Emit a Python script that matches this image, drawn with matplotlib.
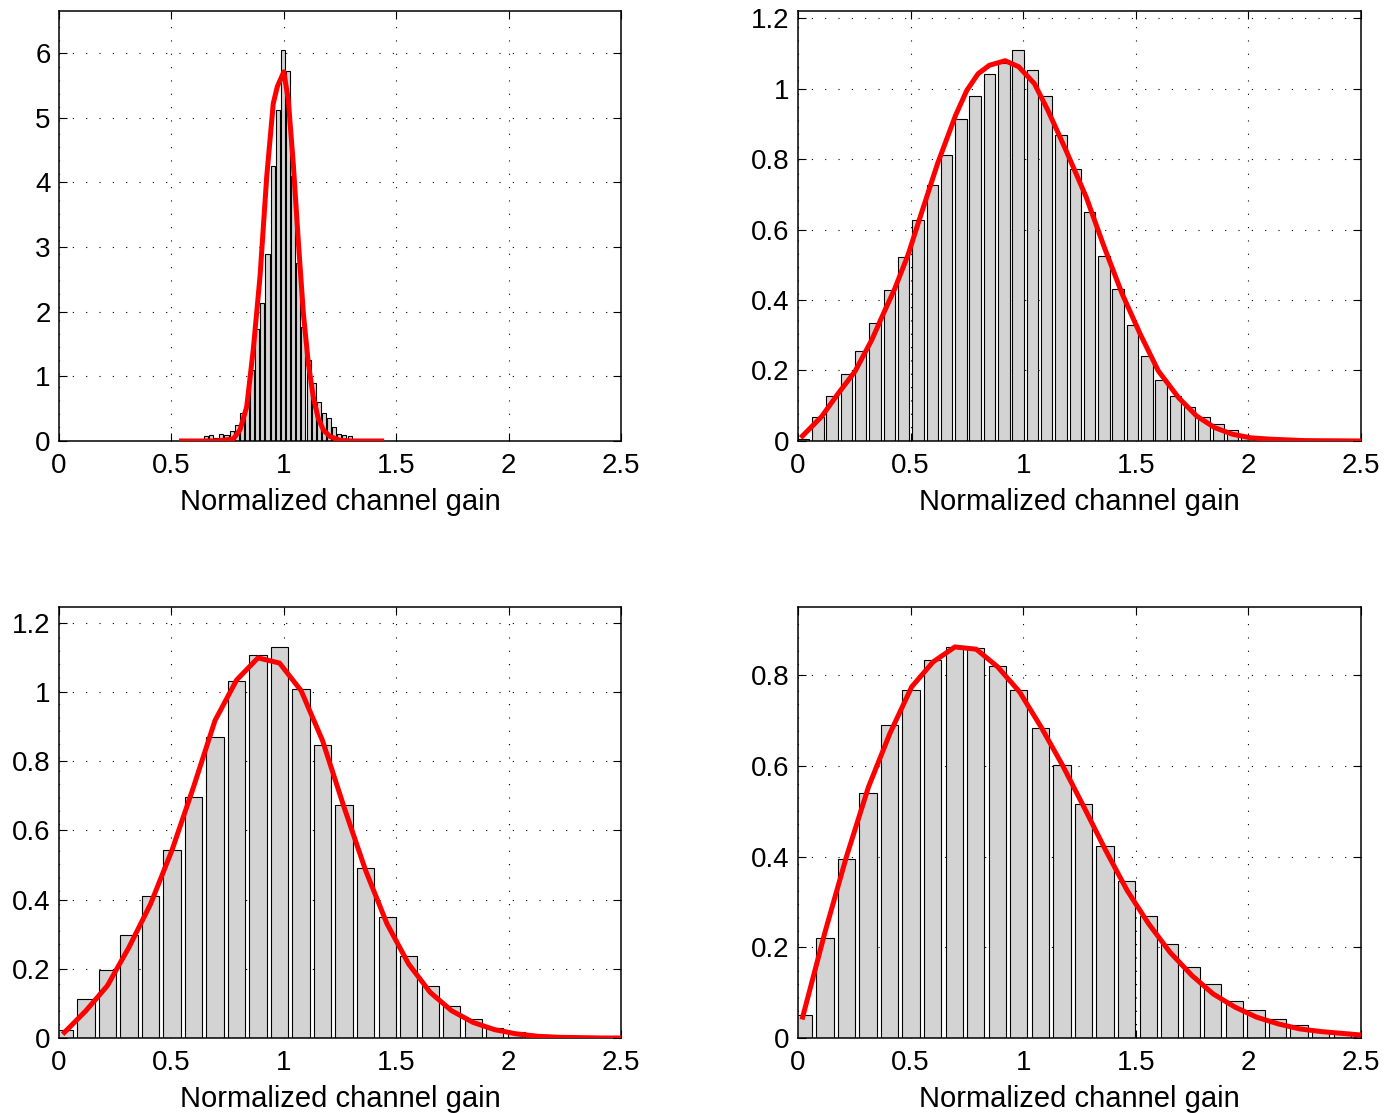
import numpy as np
import matplotlib
matplotlib.use("Agg")
import matplotlib.pyplot as plt

plt.rcParams['font.family'] = ['Liberation Sans', 'DejaVu Sans']

# ---- panel 1 (top left): narrow histogram ----
p1_centers = 0.996 + 0.0228 * np.arange(-15, 15)
p1_heights = [0.07, 0.09, 0.04, 0.11, 0.10, 0.16, 0.25, 0.44, 0.62, 1.09,
              1.73, 2.13, 2.89, 4.25, 5.12, 6.05, 5.73, 4.10, 2.75, 1.77,
              1.25, 0.90, 0.61, 0.43, 0.35, 0.21, 0.11, 0.09, 0.07, 0.03]
p1_curve_x = [0.545, 0.70, 0.775, 0.805, 0.835, 0.864, 0.894, 0.924, 0.953, 0.971,
              1.0, 1.020, 1.042, 1.065, 1.087, 1.109, 1.131, 1.153, 1.176, 1.205,
              1.25, 1.30, 1.435]
p1_curve_y = [0.0, 0.0, 0.03, 0.17, 0.53, 1.41, 2.54, 4.09, 5.22, 5.48,
              5.71, 5.27, 4.29, 3.06, 1.97, 1.20, 0.68, 0.35, 0.17, 0.07,
              0.01, 0.0, 0.0]

# ---- panel 2 (top right) ----
p2_centers = 0.025 + 0.0635 * np.arange(0, 39)
p2_heights = [0.005, 0.069, 0.127, 0.190, 0.256, 0.336, 0.429, 0.521, 0.627, 0.727,
              0.811, 0.914, 0.979, 1.041, 1.073, 1.108, 1.052, 0.978, 0.869, 0.771,
              0.650, 0.524, 0.431, 0.329, 0.240, 0.173, 0.127, 0.097, 0.068, 0.047,
              0.030, 0.014, 0.008, 0.004, 0.002, 0.001, 0.0, 0.0, 0.0]
p2_curve_x = [0.02, 0.105, 0.179, 0.253, 0.328, 0.387, 0.43, 0.49, 0.54, 0.62, 0.70, 0.75, 0.80,
              0.85, 0.92, 0.98, 1.05, 1.11, 1.19, 1.28, 1.36, 1.44, 1.52,
              1.60, 1.69, 1.77, 1.85, 1.93, 2.01, 2.10, 2.25, 2.5]
p2_curve_y = [0.014, 0.069, 0.135, 0.197, 0.287, 0.372, 0.432, 0.530, 0.630, 0.787, 0.924, 0.995, 1.042,
              1.066, 1.079, 1.062, 1.014, 0.938, 0.825, 0.692, 0.55, 0.417, 0.303,
              0.199, 0.123, 0.071, 0.038, 0.019, 0.009, 0.005, 0.001, 0.0]

# ---- panel 3 (bottom left) ----
p3_centers = 0.024 + 0.0957 * np.arange(0, 27)
p3_heights = [0.023, 0.114, 0.197, 0.299, 0.411, 0.544, 0.697, 0.869, 1.033, 1.108,
              1.130, 1.009, 0.847, 0.674, 0.491, 0.349, 0.237, 0.149, 0.092, 0.054,
              0.029, 0.016, 0.006, 0.002, 0.001, 0.0, 0.0]
p3_curve_x = [0.024, 0.120, 0.215, 0.311, 0.407, 0.502, 0.598, 0.694, 0.790, 0.885,
              0.981, 1.077, 1.172, 1.268, 1.364, 1.459, 1.555, 1.651, 1.746, 1.842,
              1.938, 2.033, 2.129, 2.225, 2.320, 2.416, 2.5]
p3_curve_y = [0.016, 0.079, 0.151, 0.262, 0.387, 0.542, 0.725, 0.918, 1.035, 1.099,
              1.084, 1.004, 0.86, 0.667, 0.484, 0.33, 0.214, 0.132, 0.079, 0.045,
              0.024, 0.012, 0.005, 0.002, 0.001, 0.0, 0.0]

# ---- panel 4 (bottom right) ----
p4_centers = 0.024 + 0.0957 * np.arange(0, 27)
p4_heights = [0.051, 0.221, 0.394, 0.539, 0.690, 0.768, 0.833, 0.862, 0.860, 0.820,
              0.767, 0.683, 0.602, 0.516, 0.423, 0.346, 0.269, 0.208, 0.157, 0.118,
              0.082, 0.062, 0.042, 0.029, 0.018, 0.013, 0.006]
p4_curve_x = [0.021, 0.12, 0.215, 0.313, 0.408, 0.505, 0.60, 0.697, 0.792, 0.887,
              0.984, 1.079, 1.175, 1.27, 1.366, 1.462, 1.557, 1.652, 1.749, 1.844,
              1.941, 2.036, 2.133, 2.228, 2.325, 2.489]
p4_curve_y = [0.046, 0.233, 0.399, 0.553, 0.671, 0.774, 0.829, 0.862, 0.857, 0.818,
              0.763, 0.686, 0.601, 0.509, 0.414, 0.325, 0.252, 0.189, 0.138, 0.097,
              0.068, 0.046, 0.031, 0.02, 0.014, 0.007]

x_ticks = [0, 0.5, 1, 1.5, 2, 2.5]
x_ticklabels = ['0', '0.5', '1', '1.5', '2', '2.5']

panels = [
    dict(pos=[0.0423, 0.6038, 0.4029, 0.3863], c=p1_centers, h=p1_heights, w=0.0228,
         cx=p1_curve_x, cy=p1_curve_y, ylim=6.65,
         yt=[0, 1, 2, 3, 4, 5, 6], ytl=['0', '1', '2', '3', '4', '5', '6']),
    dict(pos=[0.5720, 0.6038, 0.4036, 0.3863], c=p2_centers, h=p2_heights, w=0.0635,
         cx=p2_curve_x, cy=p2_curve_y, ylim=1.22,
         yt=[0, 0.2, 0.4, 0.6, 0.8, 1.0, 1.2],
         ytl=['0', '0.2', '0.4', '0.6', '0.8', '1', '1.2']),
    dict(pos=[0.0423, 0.0674, 0.4029, 0.3872], c=p3_centers, h=p3_heights, w=0.0957,
         cx=p3_curve_x, cy=p3_curve_y, ylim=1.246,
         yt=[0, 0.2, 0.4, 0.6, 0.8, 1.0, 1.2],
         ytl=['0', '0.2', '0.4', '0.6', '0.8', '1', '1.2']),
    dict(pos=[0.5720, 0.0674, 0.4036, 0.3872], c=p4_centers, h=p4_heights, w=0.0957,
         cx=p4_curve_x, cy=p4_curve_y, ylim=0.95,
         yt=[0, 0.2, 0.4, 0.6, 0.8], ytl=['0', '0.2', '0.4', '0.6', '0.8']),
]

fig = plt.figure(figsize=(13.95, 11.13), dpi=100)

for p in panels:
    ax = fig.add_axes(p['pos'])
    ax.bar(p['c'], p['h'], width=0.8 * p['w'], color='#d3d3d3',
           edgecolor='black', linewidth=0.8, zorder=2)
    ax.plot(p['cx'], p['cy'], color='#ff0000', linewidth=3.6, zorder=3)
    ax.set_xlim(0, 2.5)
    ax.set_ylim(0, p['ylim'])
    ax.set_xticks(x_ticks)
    ax.set_xticklabels(x_ticklabels)
    ax.set_yticks(p['yt'])
    ax.set_yticklabels(p['ytl'])
    ax.set_axisbelow(True)
    ax.grid(True, color='black', linestyle=(0, (1, 11)), linewidth=0.8)
    ax.tick_params(direction='in', top=True, right=True, length=6, width=0.8,
                   labelsize=20)
    ax.tick_params(axis='x', pad=9)
    ax.tick_params(axis='y', pad=6)
    for s in ax.spines.values():
        s.set_linewidth(1.1)
    ax.set_xlabel('Normalized channel gain', fontsize=21, labelpad=6)

fig.savefig('out.png', dpi=100)
